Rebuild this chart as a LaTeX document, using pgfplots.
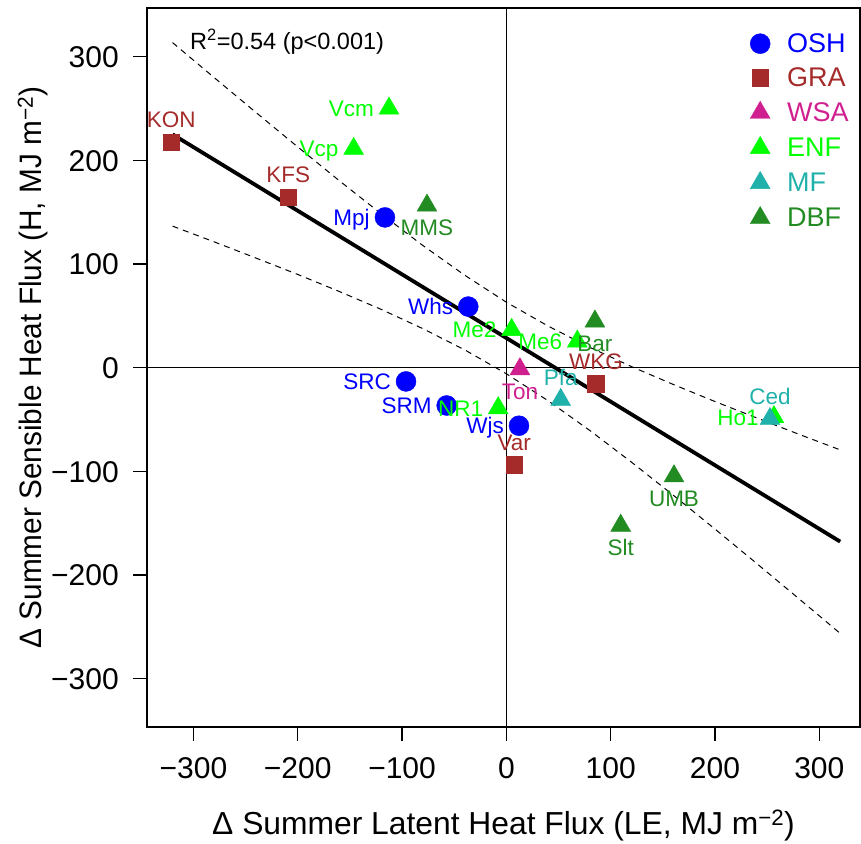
\documentclass[border=0pt]{standalone}
\usepackage{graphicx}
\usepackage{pgfplots}
\usepackage{pgfplotstable}
\pgfplotsset{compat=1.18}
\usepackage{fontspec}
\setmainfont{Liberation Sans}
\definecolor{osh}{RGB}{0,0,255}
\definecolor{gra}{RGB}{165,42,42}
\definecolor{wsa}{RGB}{208,32,144}
\definecolor{enf}{RGB}{0,255,0}
\definecolor{mf}{RGB}{32,178,170}
\definecolor{dbf}{RGB}{34,139,34}

\pgfplotstableread{
x y lab
-116.4 145.0 Mpj
-36.5 59.0 Whs
-96.2 -13.2 SRC
-57.2 -36.4 SRM
12.1 -55.9 Wjs
}\tabosh
\pgfplotstableread{
x y lab
-321.2 217.7 KON
-209.1 164.6 KFS
85.9 -15.4 WKG
7.6 -93.3 Var
}\tabgra
\pgfplotstableread{
x y lab
13.0 -1.3 Ton
}\tabwsa
\pgfplotstableread{
x y lab
-112.5 250.1 Vcm
-146.4 211.2 Vcp
5.1 36.6 Me2
68.0 25.4 Me6
-7.8 -38.9 NR1
256.5 -47.5 Ho1
}\tabenf
\pgfplotstableread{
x y lab
52.1 -30.9 Pfa
252.7 -49.4 Ced
}\tabmf
\pgfplotstableread{
x y lab
-76.1 156.5 MMS
84.9 44.7 Bar
160.7 -104.6 UMB
109.6 -152.2 Slt
}\tabdbf

\pgfplotstableread{
x y
-320 313.6
-280 279.8
-240 246.2
-200 213.0
-160 180.3
-120 148.5
-80 117.9
-40 89.3
0 63.2
40 40.2
80 19.7
120 1.1
160 -16.1
200 -32.6
240 -48.4
280 -64.0
320 -79.2
}\tabupper
\pgfplotstableread{
x y
-320 136.6
-280 121.4
-240 105.8
-200 90.0
-160 73.5
-120 56.3
-80 37.7
-40 17.3
0 -5.8
40 -31.8
80 -60.5
120 -91.1
160 -122.9
200 -155.6
240 -188.8
280 -222.4
320 -256.2
}\tablower

\tikzset{
  lblpos L/.style={anchor=east, xshift=-15pt},
  lblpos A/.style={anchor=south, yshift=14pt},
  lblpos B/.style={anchor=north, yshift=-14pt},
}
\pgfplotsset{
  lbl/.style 2 args={only marks, color=#1, mark options={draw=none, fill=#1},
    point meta=explicit symbolic, nodes near coords,
    every node near coord/.append style={lblpos #2,
      text=#1, font=\fontsize{22.5}{27}\selectfont, inner sep=0pt,
      text height=16pt, text depth=0pt}},
}

\begin{document}
\begin{tikzpicture}
\begin{axis}[
  name=ax,
  scale only axis, width=713pt, height=719pt,
  xmin=-344.5, xmax=339, ymin=-346.5, ymax=347,
  axis line style={line width=1.3pt},
  every tick/.style={black, line width=1.3pt},
  major tick length=14pt,
  tick align=outside, tick pos=left,
  xtick={-300,-200,-100,0,100,200,300},
  xticklabels={−300,−200,−100,0,100,200,300},
  ytick={-300,-200,-100,0,100,200,300},
  yticklabels={−300,−200,−100,0,100,200,300},
  tick label style={font=\fontsize{30}{36}\selectfont, text height=21.5pt, text depth=0pt, inner sep=0pt},
  xticklabel style={anchor=north, yshift=-16pt},
  yticklabel style={anchor=east, xshift=-14pt},
  xlabel={Δ Summer Latent Heat Flux (LE, MJ m\textsuperscript{−2})},
  ylabel={\scalebox{0.96}[1]{Δ Summer Sensible Heat Flux (H, MJ m\textsuperscript{−2})}},
  xlabel style={font=\fontsize{31.8}{37}\selectfont, at={(rel axis cs:0.5,-0.1502)}, anchor=base},
  ylabel style={font=\fontsize{31}{37}\selectfont, at={(rel axis cs:-0.1473,0.5)}, anchor=base},
  legend style={at={(rel axis cs:0.8429,0.9648)}, anchor=north west, draw=none, fill=none,
    inner sep=0pt, row sep=13.5pt, font=\fontsize{27}{32}\selectfont, nodes={inner sep=0pt}},
  legend cell align=left,
  legend image code/.code={\path[draw=none, fill=none] (0pt,-1pt) rectangle (39pt,1pt); \draw[#1] plot coordinates {(12pt,0pt)};},
]
\addplot[black, line width=1pt, forget plot] coordinates {(-344.5,0) (339,0)};
\addplot[black, line width=1pt, forget plot] coordinates {(0,-346.5) (0,347)};
\addplot[black, line width=1pt, dash pattern=on 6pt off 5pt, forget plot] table {\tabupper};
\addplot[black, line width=1pt, dash pattern=on 6pt off 5pt, forget plot] table {\tablower};
\addplot[black, line width=3.8pt, forget plot] coordinates {(-320,225.1) (320,-167.7)};

\addplot[lbl={osh}{L}, mark=*, mark size=10pt] table[meta=lab] {\tabosh};
\addlegendentry{\textcolor{osh}{OSH}}
\addplot[lbl={gra}{A}, mark=square*, mark size=8.3pt] table[meta=lab] {\tabgra};
\addlegendentry{\textcolor{gra}{GRA}}
\addplot[lbl={wsa}{B}, mark=triangle*, mark size=11.5pt] table[meta=lab] {\tabwsa};
\addlegendentry{\textcolor{wsa}{WSA}}
\addplot[lbl={enf}{L}, mark=triangle*, mark size=11.5pt] table[meta=lab] {\tabenf};
\addlegendentry{\textcolor{enf}{ENF}}
\addplot[lbl={mf}{A}, mark=triangle*, mark size=11.5pt] table[meta=lab] {\tabmf};
\addlegendentry{\textcolor{mf}{MF}}
\addplot[lbl={dbf}{B}, mark=triangle*, mark size=11.5pt] table[meta=lab] {\tabdbf};
\addlegendentry{\textcolor{dbf}{DBF}}

\node[anchor=base west, font=\fontsize{23.5}{28}\selectfont, inner sep=0pt] at (rel axis cs:0.0603,0.9416) {R\textsuperscript{2}=0.54 (p<0.001)};
\end{axis}
\pgfresetboundingbox
\path ([xshift=-147pt,yshift=-117pt]ax.south west) rectangle ([xshift=1pt,yshift=8pt]ax.north east);
\end{tikzpicture}
\end{document}
